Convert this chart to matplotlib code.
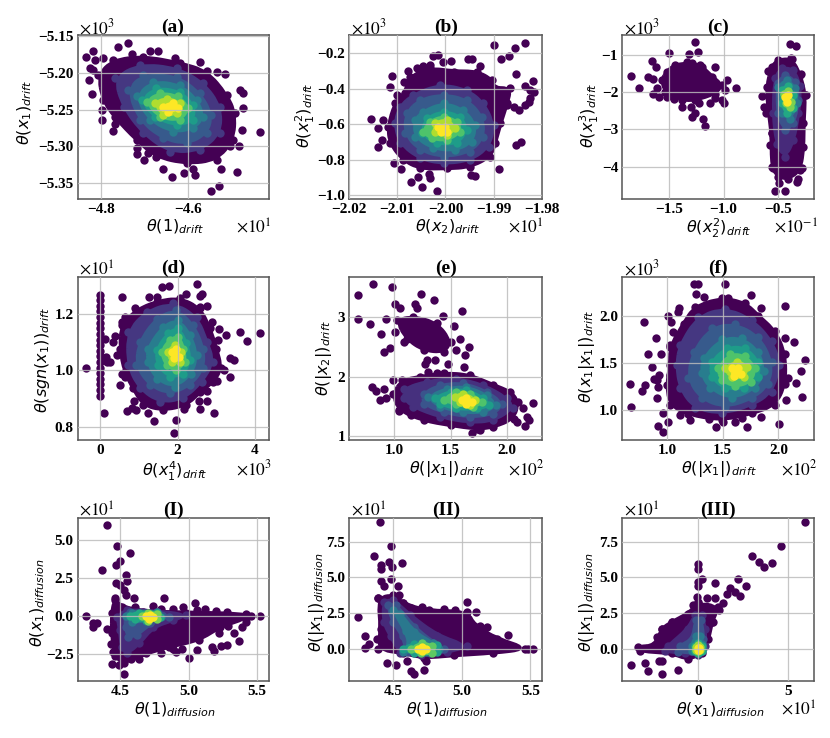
import matplotlib
matplotlib.use("Agg")
import matplotlib.pyplot as plt
from matplotlib.path import Path
from matplotlib.patches import PathPatch

# values: loose points, then density outlines from low to high
a_points = [(-4.835,-5.178),(-4.818,-5.171),(-4.814,-5.183),(-4.825,-5.194),(-4.818,-5.196),(-4.828,-5.210),(-4.820,-5.229),(-4.795,-5.180),(-4.762,-5.165),(-4.738,-5.159),(-4.728,-5.174),(-4.688,-5.170),(-4.669,-5.171),(-4.572,-5.185),(-4.629,-5.180),(-4.798,-5.250),(-4.798,-5.264),(-4.773,-5.279),(-4.768,-5.269),(-4.716,-5.302),(-4.718,-5.310),(-4.701,-5.318),(-4.691,-5.309),(-4.656,-5.330),(-4.635,-5.342),(-4.608,-5.336),(-4.583,-5.339),(-4.588,-5.331),(-4.547,-5.360),(-4.527,-5.354),(-4.522,-5.330),(-4.485,-5.335),(-4.502,-5.300),(-4.482,-5.300),(-4.433,-5.281),(-4.475,-5.278),(-4.472,-5.248),(-4.479,-5.223),(-4.472,-5.228),(-4.533,-5.199),(-4.514,-5.201)]
a_levels = [0, .16, .28, .42, .55, .72, .88, 1]
a_rings = [
    [(-4.806,-5.203),(-4.772,-5.183),(-4.702,-5.178),(-4.618,-5.187),(-4.556,-5.198),(-4.510,-5.230),(-4.491,-5.255),(-4.495,-5.291),(-4.533,-5.318),(-4.602,-5.323),(-4.672,-5.314),(-4.718,-5.291),(-4.768,-5.260),(-4.795,-5.237)],
    [(-4.768,-5.207),(-4.710,-5.189),(-4.625,-5.194),(-4.564,-5.214),(-4.525,-5.246),(-4.525,-5.282),(-4.572,-5.305),(-4.641,-5.307),(-4.702,-5.282),(-4.748,-5.246)],
    [(-4.737,-5.223),(-4.702,-5.203),(-4.625,-5.205),(-4.572,-5.228),(-4.545,-5.257),(-4.556,-5.282),(-4.602,-5.296),(-4.656,-5.289),(-4.710,-5.264)],
    [(-4.718,-5.232),(-4.679,-5.212),(-4.618,-5.217),(-4.579,-5.237),(-4.564,-5.260),(-4.587,-5.275),(-4.633,-5.280),(-4.687,-5.264)],
    [(-4.706,-5.237),(-4.672,-5.221),(-4.618,-5.226),(-4.587,-5.244),(-4.587,-5.264),(-4.625,-5.271),(-4.675,-5.260)],
    [(-4.695,-5.239),(-4.664,-5.228),(-4.622,-5.232),(-4.598,-5.248),(-4.618,-5.264),(-4.664,-5.260)],
    [(-4.675,-5.241),(-4.648,-5.235),(-4.618,-5.241),(-4.625,-5.255),(-4.656,-5.257)],
    [(-4.656,-5.246),(-4.633,-5.241),(-4.622,-5.248),(-4.645,-5.253)],
]

b_points = [(-1.990,-0.153),(-1.9835,-0.140),(-1.9855,-0.168),(-1.9869,-0.213),(-1.9885,-0.234),(-1.9853,-0.316),(-1.9819,-0.354),(-1.9834,-0.384),(-1.9825,-0.407),(-1.9815,-0.416),(-1.9824,-0.454),(-1.9834,-0.491),(-1.9827,-0.472),(-1.9848,-0.519),(-1.9872,-0.491),(-1.9858,-0.500),(-1.9842,-0.698),(-1.9853,-0.716),(-1.9888,-0.854),(-2.0017,-0.977),(-2.0049,-0.951),(-2.0072,-0.923),(-2.0058,-0.899),(-2.0033,-0.904),(-2.0035,-0.880),(-1.9947,-0.885),(-1.9938,-0.891),(-2.0107,-0.820),(-2.0093,-0.854),(-2.0140,-0.726),(-2.0131,-0.688),(-2.0155,-0.572),(-2.0140,-0.619),(-2.0129,-0.576),(-2.0112,-0.328),(-2.0115,-0.392),(-2.0086,-0.360),(-2.0101,-0.435),(-2.0070,-0.388),(-2.0025,-0.215),(-2.0015,-0.209),(-1.9989,-0.243),(-1.9953,-0.232),(-1.9944,-0.232),(-1.9928,-0.269),(-2.0006,-0.247),(-2.0046,-0.271),(-2.0032,-0.266),(-2.0077,-0.298),(-2.0060,-0.284)]
b_levels = [0, .16, .28, .42, .55, .72, .88, 1]
b_rings = [
    [(-2.0074,-0.331),(-2.0032,-0.285),(-1.9983,-0.303),(-1.9935,-0.303),(-1.9903,-0.350),(-1.9900,-0.397),(-1.9865,-0.397),(-1.9872,-0.482),(-1.9886,-0.594),(-1.9897,-0.707),(-1.9907,-0.782),(-1.9949,-0.839),(-1.9997,-0.848),(-2.0053,-0.848),(-2.0088,-0.801),(-2.0115,-0.707),(-2.0119,-0.613),(-2.0105,-0.482),(-2.0084,-0.425)],
    [(-2.0067,-0.435),(-2.0011,-0.378),(-1.9956,-0.407),(-1.9921,-0.482),(-1.9900,-0.606),(-1.9910,-0.726),(-1.9949,-0.801),(-2.0004,-0.820),(-2.0053,-0.792),(-2.0094,-0.707),(-2.0105,-0.594),(-2.0094,-0.500)],
    [(-2.0053,-0.463),(-2.0004,-0.435),(-1.9956,-0.463),(-1.9924,-0.557),(-1.9921,-0.669),(-1.9949,-0.754),(-2.0004,-0.782),(-2.0053,-0.745),(-2.0084,-0.651),(-2.0081,-0.538)],
    [(-2.0046,-0.529),(-2.0004,-0.482),(-1.9963,-0.519),(-1.9938,-0.604),(-1.9945,-0.698),(-1.9980,-0.745),(-2.0025,-0.735),(-2.0063,-0.669),(-2.0063,-0.576)],
    [(-2.0039,-0.566),(-2.0004,-0.529),(-1.9969,-0.557),(-1.9956,-0.632),(-1.9976,-0.707),(-2.0018,-0.707),(-2.0049,-0.651)],
    [(-2.0032,-0.585),(-2.0004,-0.557),(-1.9976,-0.585),(-1.9969,-0.641),(-1.9997,-0.688),(-2.0028,-0.679),(-2.0046,-0.641)],
    [(-2.0022,-0.594),(-1.9997,-0.576),(-1.9980,-0.623),(-1.9997,-0.660),(-2.0022,-0.641)],
    [(-2.0015,-0.613),(-2.0001,-0.613),(-1.9997,-0.641),(-2.0010,-0.641)],
]

c_points = [(-1.853,-1.57),(-1.776,-1.89),(-1.660,-1.16),(-1.623,-1.32),(-1.500,-0.96),(-1.322,-0.98),(-1.261,-0.67),(-1.239,-0.92),(-1.699,-1.59),(-1.653,-1.65),(-1.653,-2.04),(-1.613,-1.90),(-1.598,-2.13),(-1.521,-2.13),(-1.460,-2.19),(-1.383,-2.39),(-1.301,-2.39),(-1.291,-2.66),(-1.261,-2.57),(-1.193,-2.73),(-1.169,-2.90),(-1.230,-2.30),(-1.129,-2.30),(-1.000,-2.30),(-1.015,-2.20),(-1.083,-1.32),(-0.966,-1.68),(-0.887,-1.90),(-0.985,-1.95),(-1.337,-1.19),(-1.215,-1.27),(-1.083,-2.17),(-0.387,-0.72),(-0.334,-0.76),(-0.377,-1.10),(-0.525,-4.66),(-0.429,-4.66),(-0.488,-4.45),(-0.325,-4.41),(-0.310,-4.32),(-0.586,-1.43),(-0.288,-1.52),(-0.647,-2.11),(-0.623,-2.39),(-0.610,-2.55),(-0.555,-3.11),(-0.571,-3.42),(-0.540,-4.05),(-0.242,-2.08),(-0.279,-4.05)]
c_levels = [0, 0, .12, .25, .4, .6, .8, 1]
c_rings = [
    [(-1.521,-1.45),(-1.445,-1.27),(-1.291,-1.23),(-1.199,-1.32),(-1.107,-1.59),(-1.015,-1.81),(-1.077,-2.04),(-1.261,-2.21),(-1.383,-2.21),(-1.537,-1.99),(-1.568,-1.67)],
    [(-0.555,-1.32),(-0.494,-1.14),(-0.371,-1.12),(-0.295,-1.54),(-0.248,-2.08),(-0.264,-2.84),(-0.264,-3.47),(-0.294,-4.09),(-0.402,-4.32),(-0.494,-4.27),(-0.555,-4.01),(-0.555,-3.11),(-0.586,-2.48),(-0.601,-1.86)],
    [(-0.525,-1.63),(-0.463,-1.36),(-0.356,-1.40),(-0.294,-1.85),(-0.310,-2.57),(-0.356,-3.29),(-0.433,-3.74),(-0.509,-3.38),(-0.540,-2.57)],
    [(-0.500,-1.77),(-0.433,-1.54),(-0.340,-1.72),(-0.310,-2.21),(-0.356,-2.84),(-0.433,-3.02),(-0.500,-2.57)],
    [(-0.494,-1.86),(-0.417,-1.68),(-0.340,-1.90),(-0.325,-2.30),(-0.387,-2.71),(-0.463,-2.57)],
    [(-0.463,-1.95),(-0.408,-1.84),(-0.356,-2.08),(-0.356,-2.44),(-0.417,-2.57),(-0.457,-2.30)],
    [(-0.439,-2.04),(-0.408,-1.96),(-0.377,-2.26),(-0.387,-2.41),(-0.426,-2.30)],
    [(-0.433,-2.13),(-0.408,-2.08),(-0.411,-2.26)],
]

d_points = [(-0.36,1.007),(0.10,0.849),(0.13,1.112),(0.26,1.029),(0.17,1.029),(0.15,1.049),(0.45,1.055),(0.33,1.10),(0.39,1.124),(0.56,1.262),(0.52,0.948),(0.69,0.856),(0.82,0.865),(0.94,0.859),(0.88,0.892),(1.24,0.849),(1.40,0.819),(1.91,0.778),(1.96,0.825),(2.16,0.861),(2.58,0.861),(2.94,0.849),(2.75,0.892),(2.56,0.892),(1.61,1.296),(1.78,1.300),(2.51,1.308),(2.58,1.266),(2.64,1.271),(2.23,1.274),(1.26,1.260),(1.46,1.262),(2.76,1.229),(2.58,1.227),(2.88,1.173),(3.07,1.147),(3.26,1.128),(3.61,1.138),(3.79,1.106),(4.12,1.135),(3.05,1.108),(3.35,1.043),(3.46,1.037),(3.19,1.001),(3.35,0.975),(3.02,0.962),(2.75,0.928),(0.90,1.221),(0.64,1.191),(0.56,1.173),(0.64,0.977),(0.56,0.989),
            (0,1.27),(0,1.25),(0,1.23),(0,1.21),(0,1.19),(0,1.17),(0,1.15),(0,1.13),(0,1.11),(0,1.09),(0,1.07),(0,1.05),(0,1.03),(0,1.01),(0,0.99),(0,0.97),(0,0.95),(0,0.93),(0,0.91)]
d_levels = [0, .16, .28, .42, .55, .72, .88, 1]
d_rings = [
    [(.56,1.162),(.94,1.214),(1.46,1.245),(2.06,1.257),(2.58,1.221),(2.83,1.150),(3.0,1.078),(3.13,1.007),(2.92,.960),(2.58,.924),(2.23,.877),(1.63,.859),(1.12,.877),(.86,.936),(.64,.995),(.52,1.078)],
    [(.73,1.138),(1.20,1.209),(1.89,1.239),(2.49,1.191),(2.75,1.102),(2.92,1.031),(2.62,.960),(2.15,.900),(1.55,.888),(1.03,.936),(.73,1.019)],
    [(1.03,1.102),(1.46,1.185),(1.97,1.215),(2.40,1.162),(2.66,1.078),(2.66,1.007),(2.32,.948),(1.80,.918),(1.29,.948),(.94,1.019)],
    [(1.24,1.078),(1.63,1.156),(2.02,1.179),(2.32,1.126),(2.49,1.055),(2.36,.989),(1.93,.942),(1.46,.971),(1.24,1.031)],
    [(1.46,1.072),(1.76,1.132),(2.02,1.150),(2.23,1.096),(2.32,1.037),(2.15,.989),(1.80,.977),(1.50,1.019)],
    [(1.59,1.066),(1.80,1.108),(2.02,1.120),(2.15,1.078),(2.19,1.031),(1.97,1.001),(1.72,1.019)],
    [(1.76,1.066),(1.93,1.090),(2.10,1.066),(2.06,1.031),(1.85,1.031)],
    [(1.85,1.066),(1.97,1.076),(2.04,1.049),(1.91,1.043)],
]

e_points = [(.68,3.37),(.68,2.98),(.81,3.56),(.98,3.51),(.78,2.89),(.88,2.72),(.91,2.42),(.96,2.49),(1.24,3.40),(1.35,3.29),(1.01,3.22),(1.05,3.15),(1.18,3.22),(1.20,3.15),(1.43,3.03),(1.60,3.10),(.93,2.97),(1.01,2.76),(1.53,2.86),(1.58,2.64),(1.66,2.50),(1.63,2.36),(1.48,2.22),(1.62,2.17),(1.55,2.45),(1.09,2.59),(1.29,2.28),(1.36,2.28),(1.30,2.08),(1.38,2.06),(1.27,2.22),(.80,1.83),(.84,1.76),(.87,1.61),(.93,1.64),(.91,1.80),(.99,1.94),(2.23,1.56),(2.18,1.33),(2.20,1.27),(2.16,1.17),(2.14,1.48),(1.69,1.06),(1.76,1.10),(1.04,1.43),(1.15,1.36),(2.09,1.24)]
e_levels = [0, 0, .14, .26, .4, .55, .72, .88, 1]
e_rings = [
    [(1.02,2.95),(1.17,3.01),(1.38,2.90),(1.50,2.59),(1.44,2.42),(1.26,2.45),(1.11,2.64)],
    [(1.07,1.94),(1.23,2.0),(1.44,2.06),(1.67,2.03),(1.88,1.86),(2.03,1.75),(2.10,1.58),(2.06,1.30),(1.88,1.16),(1.73,1.13),(1.50,1.19),(1.26,1.27),(1.04,1.44),(.99,1.72)],
    [(1.09,1.80),(1.29,1.92),(1.55,1.97),(1.79,1.86),(2.0,1.64),(2.05,1.47),(1.88,1.27),(1.67,1.24),(1.41,1.33),(1.17,1.50),(1.09,1.64)],
    [(1.26,1.72),(1.41,1.86),(1.61,1.89),(1.82,1.75),(1.96,1.55),(1.88,1.38),(1.67,1.33),(1.44,1.41),(1.26,1.55)],
    [(1.30,1.66),(1.47,1.80),(1.64,1.83),(1.82,1.69),(1.90,1.52),(1.79,1.41),(1.61,1.41),(1.41,1.50)],
    [(1.36,1.64),(1.50,1.75),(1.64,1.78),(1.79,1.64),(1.84,1.52),(1.73,1.47),(1.55,1.47),(1.41,1.55)],
    [(1.44,1.62),(1.55,1.75),(1.67,1.71),(1.78,1.58),(1.70,1.50),(1.55,1.54)],
    [(1.54,1.66),(1.61,1.72),(1.72,1.61),(1.67,1.52),(1.58,1.58)],
    [(1.60,1.62),(1.64,1.65),(1.69,1.57),(1.64,1.54)],
]

f_points = [(1.24,2.34),(1.28,2.34),(1.52,2.34),(1.26,2.24),(1.33,2.20),(2.06,2.11),(1.75,2.22),(1.11,2.09),(1.10,2.04),(1.01,2.0),(.79,1.94),(1.04,1.94),(1.05,1.83),(.90,1.76),(.83,1.59),(.95,1.59),(1.03,1.69),(.87,1.46),(.67,1.27),(.68,1.03),(.78,1.20),(.80,1.26),(.88,1.33),(.93,1.37),(.91,1.32),(.92,1.24),(.91,1.12),(.96,.96),(.92,.83),(.96,.76),(1.01,.87),(1.44,.82),(1.50,.87),(1.72,.82),(1.84,.92),(2.01,.85),(2.07,1.10),(2.21,1.14),(2.16,1.29),(2.20,1.41),(2.24,1.53),(2.14,1.72),(2.06,1.76),(1.04,1.32),(1.03,1.37),(1.12,.94),(1.21,.89),(1.61,.87),(1.67,.91),(1.38,.90),(1.84,2.09),(1.55,2.19),(2.09,1.34)]
f_levels = [0, .16, .28, .42, .55, .72, .88, 1]
f_rings = [
    [(1.03,1.67),(1.15,1.92),(1.25,2.10),(1.49,2.19),(1.70,2.14),(1.82,2.0),(1.97,1.84),(2.06,1.59),(2.06,1.27),(1.97,1.05),(1.76,.96),(1.49,.89),(1.19,.95),(1.03,1.05),(1.0,1.26),(1.03,1.48)],
    [(1.12,1.69),(1.28,1.99),(1.52,2.08),(1.76,1.96),(1.94,1.73),(2.01,1.48),(1.94,1.19),(1.76,1.05),(1.49,.96),(1.25,1.02),(1.12,1.23),(1.09,1.48)],
    [(1.24,1.62),(1.40,1.87),(1.61,1.91),(1.82,1.78),(1.94,1.51),(1.91,1.27),(1.76,1.12),(1.52,1.03),(1.31,1.12),(1.19,1.34)],
    [(1.33,1.55),(1.49,1.75),(1.67,1.76),(1.82,1.62),(1.87,1.41),(1.79,1.23),(1.58,1.12),(1.39,1.23),(1.31,1.39)],
    [(1.40,1.51),(1.54,1.66),(1.70,1.66),(1.82,1.51),(1.82,1.35),(1.69,1.23),(1.52,1.23),(1.40,1.35)],
    [(1.46,1.44),(1.57,1.59),(1.70,1.57),(1.79,1.44),(1.75,1.30),(1.61,1.25),(1.49,1.32)],
    [(1.52,1.44),(1.63,1.51),(1.72,1.46),(1.69,1.35),(1.58,1.35)],
    [(1.58,1.44),(1.64,1.45),(1.66,1.38),(1.60,1.36)],
]

i_points = [(4.40,5.97),(4.48,4.62),(4.57,4.14),(4.50,3.65),(4.47,3.37),(4.37,3.04),(4.54,2.71),(4.55,2.34),(4.47,2.21),(4.50,2.06),(4.53,1.73),(4.54,1.40),(4.60,1.23),(4.82,1.23),(5.05,.85),(4.46,1.18),(4.25,.02),(4.30,-.72),(4.30,-.46),(4.33,-.42),(4.40,-.83),(4.43,-1.82),(4.45,-2.32),(4.44,-3.15),(4.49,-3.19),(4.53,-3.76),(4.64,-2.82),(4.58,-2.80),(4.80,-2.43),(4.89,-2.17),(4.91,-2.32),(4.95,-2.17),(5.0,-2.76),(5.06,-2.21),(5.17,-1.99),(5.19,-2.28),(5.24,-1.93),(5.28,-1.88),(5.37,-1.62),(5.33,-1.12),(5.29,-.63),(5.22,-1.12),(5.39,-.72),(5.42,-.35),(5.52,.02),(5.46,.02),(5.20,.37),(5.28,.31),(4.89,.48),(4.96,.59),(4.74,.70),(4.61,.59),(4.80,.46),(5.12,.48),(5.06,.42)]
i_levels = [0, .12, .25, .4, .6, .8, 1]
i_rings = [
    [(4.44,.20),(4.46,1.07),(4.51,.63),(4.67,.31),(4.98,.24),(5.42,.15),(5.42,-.13),(5.23,-.68),(5.08,-1.55),(4.86,-1.99),(4.69,-2.43),(4.53,-3.08),(4.46,-2.63),(4.44,-1.12)],
    [(4.48,-.02),(4.55,.42),(4.77,.31),(4.98,.09),(4.89,-.24),(4.74,-.68),(4.64,-1.77),(4.55,-2.43),(4.51,-1.99),(4.50,-.90)],
    [(4.54,.02),(4.57,.31),(4.77,.31),(4.86,-.02),(4.72,-.46),(4.62,-1.23),(4.56,-1.33),(4.54,-.68)],
    [(4.54,.02),(4.59,.24),(4.77,.31),(4.80,-.02),(4.69,-.28),(4.59,-.35)],
    [(4.57,.04),(4.64,.24),(4.77,.24),(4.79,-.07),(4.69,-.24),(4.61,-.20)],
    [(4.66,.02),(4.70,.20),(4.77,.15),(4.77,-.20),(4.70,-.28)],
    [(4.69,.02),(4.72,.11),(4.74,-.02),(4.71,-.15)],
]

ii_points = [(4.40,8.88),(4.48,7.18),(4.36,6.52),(4.47,6.11),(4.56,5.99),(4.49,5.75),(4.41,5.87),(4.41,5.56),(4.41,4.73),(4.48,4.92),(4.43,4.37),(4.53,4.42),(4.54,3.77),(4.24,2.24),(4.29,.86),(4.29,.07),(4.32,.31),(4.38,.67),(5.04,3.27),(5.10,2.58),(5.34,.98),(5.52,0),(4.45,-1.0),(4.52,-1.12),(4.60,-.88),(4.63,-1.55),(4.65,-1.77),(4.72,-1.48),(4.74,-.88),(4.76,2.74),(4.87,2.77),(4.71,2.89),(4.63,2.86),(5.18,1.50),(5.13,1.62),(5.17,1.03),(4.95,2.70),(4.39,3.53),(4.57,3.17),(5.46,0)]
ii_levels = [0, .12, .25, .4, .55, .75, 1]
ii_rings = [
    [(4.39,3.53),(4.50,3.77),(4.57,3.17),(4.74,2.65),(5.04,2.6),(5.09,1.62),(5.26,.67),(5.48,0),(5.23,-.29),(4.94,-.45),(4.72,-.64),(4.57,-.29),(4.39,-.05),(4.41,1.38)],
    [(4.43,3.29),(4.50,3.41),(4.62,2.34),(4.82,.91),(5.04,.19),(4.89,-.24),(4.70,-.41),(4.55,-.29),(4.48,.91),(4.43,1.86)],
    [(4.46,3.05),(4.52,3.05),(4.65,1.50),(4.79,.43),(4.87,0),(4.77,-.29),(4.60,-.24),(4.57,.91),(4.50,1.86)],
    [(4.50,2.70),(4.55,2.46),(4.65,1.15),(4.79,.38),(4.83,0),(4.74,-.24),(4.57,-.24),(4.62,.31),(4.59,1.26)],
    [(4.57,0),(4.65,.31),(4.82,.24),(4.82,-.24),(4.65,-.29)],
    [(4.63,0),(4.71,.38),(4.78,.19),(4.78,-.29),(4.70,-.33)],
    [(4.68,0),(4.71,.14),(4.74,0),(4.71,-.19)],
]

iii_points = [(5.95,8.88),(4.59,7.18),(2.99,6.52),(3.36,6.11),(3.64,5.73),(4.11,5.99),(0,5.92),(0,5.56),(0,4.65),(0,4.37),(.19,4.89),(.91,4.61),(2.19,4.89),(2.66,4.37),(2.32,3.72),(2.04,4.01),(1.77,4.25),(1.62,3.84),(1.39,3.22),(.93,3.53),(1.17,2.70),(.46,3.53),(-3.77,-1.12),(-2.99,-1.03),(-2.83,-1.60),(-2.19,-.88),(-2.01,-.88),(-2.03,-1.77),(-1.12,-1.48),(0,3.29),(-.28,3.05),(-.09,3.65),(.84,1.86),(-3.25,0),(-2.32,.79),(-2.01,1.38),(-1.49,1.86)]
iii_levels = [0, .12, .25, .4, .6, .85, 1]
iii_rings = [
    [(-2.42,.19),(-2.04,1.38),(-1.49,1.86),(-.56,2.46),(0,3.17),(1.12,2.94),(.74,1.86),(.56,.67),(.19,-.29),(-.56,-.76),(-1.49,-.29),(-3.25,-.17),(-3.35,.14)],
    [(-1.67,.19),(-.56,1.38),(-.19,2.34),(.19,2.34),(.37,1.38),(.37,.19),(0,-.41),(-.74,-.29),(-1.86,-.17)],
    [(-1.02,.19),(-.28,.67),(-.15,1.98),(.15,1.98),(.28,.67),(.28,.07),(0,-.29),(-1.12,-.21)],
    [(-.37,.19),(-.11,.91),(.11,.91),(.22,.31),(.22,-.17),(0,-.29),(-.33,-.17)],
    [(-.19,.19),(0,.43),(.19,.19),(.19,-.17),(0,-.29),(-.19,-.17)],
    [(-.11,.14),(0,.26),(.11,.14),(.11,-.10),(0,-.19),(-.11,-.10)],
    [(-.04,.05),(.04,.05),(.04,-.07),(-.04,-.07)],
]

W, H = 830, 738
cmap = plt.get_cmap("viridis")
plt.rcParams["font.family"] = ["Liberation Serif", "DejaVu Serif"]

fig = plt.figure(figsize=(W / 100, H / 100), dpi=100)


def px_text(x, y, s, **kw):
    fig.text(x / W, 1 - y / H, s, ha=kw.pop("ha", "center"), va="center", **kw)


def blob_path(ring):
    # closed curve that uses the outline values as control points
    n = len(ring)
    mid = [((ring[i][0] + ring[(i + 1) % n][0]) / 2, (ring[i][1] + ring[(i + 1) % n][1]) / 2) for i in range(n)]
    verts = [mid[-1]]
    codes = [Path.MOVETO]
    for i in range(n):
        verts += [ring[i], mid[i]]
        codes += [Path.CURVE3, Path.CURVE3]
    return Path(verts, codes)


def draw_panel(box, pts, rings, levels, xlim, ylim, xticks, xlabs, yticks, ylabs):
    left, top, right, bottom = box
    ax = fig.add_axes([left / W, 1 - bottom / H, (right - left) / W, (bottom - top) / H])
    for ring, lev in zip(rings, levels):
        col = cmap(float(lev))
        ax.add_patch(PathPatch(blob_path(ring), facecolor=col, edgecolor=col, lw=3, zorder=1 + lev))
        ax.scatter([p[0] for p in ring], [p[1] for p in ring], s=36, color=col, lw=0, zorder=1 + lev)
    ax.scatter([p[0] for p in pts], [p[1] for p in pts], s=36, color=cmap(0.0), lw=0, zorder=1)
    ax.set_xlim(xlim)
    ax.set_ylim(ylim)
    ax.set_xticks(xticks, xlabs, fontweight="bold")
    ax.set_yticks(yticks, ylabs, fontweight="bold")
    ax.tick_params(length=0, labelsize=11, pad=3)
    ax.grid(True, color="#bcbcbc", lw=0.9, alpha=0.85)
    ax.set_axisbelow(False)
    for line in ax.get_xgridlines() + ax.get_ygridlines():
        line.set_zorder(3)
    for sp in ax.spines.values():
        sp.set_color("#555555")
        sp.set_linewidth(1.1)
    return ax


rows = [(35, 198.7), (276.7, 440), (517.7, 681.3)]
cols = [(77.7, 269), (349.3, 541.7), (622.3, 813.7)]


def box(r, c):
    return (cols[c][0], rows[r][0], cols[c][1], rows[r][1])


draw_panel(box(0, 0), a_points, a_rings, a_levels, (-4.854, -4.412), (-5.371, -5.1486),
           [-4.8, -4.6], ["\u22124.8", "\u22124.6"],
           [-5.35, -5.30, -5.25, -5.20, -5.15], ["\u22125.35", "\u22125.30", "\u22125.25", "\u22125.20", "\u22125.15"])
draw_panel(box(0, 1), b_points, b_rings, b_levels, (-2.02, -1.98), (-1.019, -0.097),
           [-2.02, -2.01, -2.00, -1.99, -1.98], ["\u22122.02", "\u22122.01", "\u22122.00", "\u22121.99", "\u22121.98"],
           [-1.0, -0.8, -0.6, -0.4, -0.2], ["\u22121.0", "\u22120.8", "\u22120.6", "\u22120.4", "\u22120.2"])
draw_panel(box(0, 2), c_points, c_rings, c_levels, (-1.933, -0.169), (-4.86, -0.47),
           [-1.5, -1.0, -0.5], ["\u22121.5", "\u22121.0", "\u22120.5"],
           [-4, -3, -2, -1], ["\u22124", "\u22123", "\u22122", "\u22121"])
draw_panel(box(1, 0), d_points, d_rings, d_levels, (-0.575, 4.36), (0.752, 1.334),
           [0, 2, 4], ["0", "2", "4"], [0.8, 1.0, 1.2], ["0.8", "1.0", "1.2"])
draw_panel(box(1, 1), e_points, e_rings, e_levels, (0.60, 2.309), (0.94, 3.683),
           [1.0, 1.5, 2.0], ["1.0", "1.5", "2.0"], [1, 2, 3], ["1", "2", "3"])
draw_panel(box(1, 2), f_points, f_rings, f_levels, (0.599, 2.317), (0.676, 2.42),
           [1.0, 1.5, 2.0], ["1.0", "1.5", "2.0"], [1.0, 1.5, 2.0], ["1.0", "1.5", "2.0"])
draw_panel(box(2, 0), i_points, i_rings, i_levels, (4.189, 5.589), (-4.27, 6.47),
           [4.5, 5.0, 5.5], ["4.5", "5.0", "5.5"], [-2.5, 0, 2.5, 5.0], ["\u22122.5", "0.0", "2.5", "5.0"])
draw_panel(box(2, 1), ii_points, ii_rings, ii_levels, (4.178, 5.583), (-2.29, 9.19),
           [4.5, 5.0, 5.5], ["4.5", "5.0", "5.5"], [0, 2.5, 5.0, 7.5], ["0.0", "2.5", "5.0", "7.5"])
draw_panel(box(2, 2), iii_points, iii_rings, iii_levels, (-4.24, 6.43), (-2.29, 9.19),
           [0, 5], ["0", "5"], [0, 2.5, 5.0, 7.5], ["0.0", "2.5", "5.0", "7.5"])

# titles
for x, y, s in [(173, 27, "(a)"), (446, 27, "(b)"), (718, 27, "(c)"),
                (173, 268, "(d)"), (446, 268, "(e)"), (718, 268, "(f)"),
                (173, 510, "(I)"), (446, 510, "(II)"), (718, 510, "(III)")]:
    px_text(x, y, s, fontsize=14, fontweight="bold")

# axis labels, drawn in mathtext like the original
x_labels = [(175, 227, r"$\theta(1)_{drift}$"), (447, 227, r"$\theta(x_2)_{drift}$"), (719, 228, r"$\theta(x_2^2)_{drift}$"),
            (175, 471, r"$\theta(x_1^4)_{drift}$"), (447, 469, r"$\theta(|x_1|)_{drift}$"), (719, 469, r"$\theta(|x_1|)_{drift}$"),
            (175, 710, r"$\theta(1)_{diffusion}$"), (447, 710, r"$\theta(1)_{diffusion}$"), (720, 710, r"$\theta(x_1)_{diffusion}$")]
y_labels = [(25, 113, r"$\theta(x_1)_{drift}$"), (305, 115, r"$\theta(x_1^2)_{drift}$"), (589, 115, r"$\theta(x_1^3)_{drift}$"),
            (43, 360, r"$\theta(sgn(x_1))_{drift}$"), (324, 358, r"$\theta(|x_2|)_{drift}$"), (587, 357, r"$\theta(x_1|x_1|)_{drift}$"),
            (38, 603, r"$\theta(x_1)_{diffusion}$"), (317, 602, r"$\theta(|x_1|)_{diffusion}$"), (587, 602, r"$\theta(|x_1|)_{diffusion}$")]
for x, y, s in x_labels:
    px_text(x, y, s, fontsize=11.5, math_fontfamily="dejavusans")
for x, y, s in y_labels:
    px_text(x, y, s, fontsize=11.5, rotation=90, math_fontfamily="dejavusans")

# scale factors
offsets = [(79, 28, 3), (351, 28, 3), (624, 28, 3), (79, 270, 1), (624, 269, 3),
           (79, 511, 1), (351, 511, 1), (624, 511, 1),
           (236, 228, 1), (508, 228, 1), (774, 228, -1),
           (236, 469, 3), (508, 469, 2), (781, 469, 2), (781, 710, 1)]
for x, y, p in offsets:
    px_text(x, y, r"$\times 10^{%d}$" % p, ha="left", fontsize=12.5, math_fontfamily="stix")

fig.savefig("out.png", dpi=100)
